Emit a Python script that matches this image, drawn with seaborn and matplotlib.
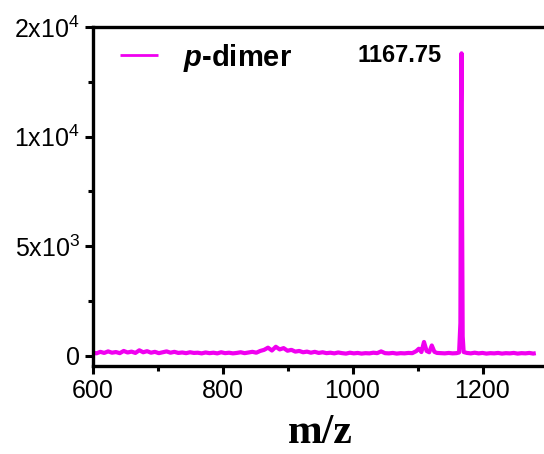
import matplotlib
matplotlib.use("Agg")
import matplotlib.pyplot as plt
import seaborn as sns
import pandas as pd
from matplotlib.ticker import FixedLocator, FixedFormatter

# MALDI-TOF spectrum of the p-dimer
mz = [600, 606, 612, 618, 624, 630, 636, 642, 648, 654, 660, 666, 672, 678, 684,
      690, 696, 702, 708, 714, 720, 726, 732, 738, 744, 750, 756, 762, 768, 774,
      780, 786, 792, 798, 804, 810, 816, 822, 828, 834, 840, 846, 852, 858, 864,
      870, 876, 882, 888, 894, 900, 906, 912, 918, 924, 930, 936, 942, 948, 954,
      960, 966, 972, 978, 984, 990, 996, 1002, 1008, 1014, 1020, 1026, 1032, 1038,
      1044, 1050, 1056, 1062, 1068, 1074, 1080, 1086, 1092, 1098, 1102, 1106, 1110,
      1114, 1118, 1122, 1126, 1130, 1136, 1142, 1148, 1154, 1160, 1164, 1166, 1167,
      1167.75, 1168.5, 1169.5, 1171, 1176, 1182, 1188, 1194, 1200, 1206, 1212, 1218,
      1224, 1230, 1236, 1242, 1248, 1254, 1260, 1266, 1272, 1278, 1282]
intensity = [160, 120, 190, 140, 210, 150, 180, 130, 230, 160, 200, 140, 260, 170, 220,
             150, 190, 130, 170, 210, 150, 190, 140, 160, 130, 170, 140, 150, 120, 160,
             130, 150, 120, 170, 130, 150, 120, 140, 170, 130, 160, 190, 150, 230, 280,
             380, 250, 420, 300, 360, 240, 280, 200, 230, 170, 200, 150, 190, 140, 170,
             130, 150, 120, 160, 130, 110, 150, 120, 140, 110, 130, 120, 150, 130,
             210, 130, 120, 140, 110, 130, 120, 140, 130, 220, 330, 180, 640,
             230, 170, 480, 190, 140, 130, 120, 140, 120, 130, 160, 1500, 11500,
             13800, 7000, 900, 180, 140, 120, 150, 120, 140, 110, 130, 120,
             140, 110, 130, 120, 140, 110, 130, 120, 140, 110, 130]

series_label = r"$\mathbfit{p}$-dimer"
peak_label = "1167.75"
peak_mz = 1167.75
peak_height = 13800

y_ticks = [0, 5000, 10000, 15000]
y_ticklabels = ["0", r"5x10$^{3}$", r"1x10$^{4}$", r"2x10$^{4}$"]
x_ticks = [600, 800, 1000, 1200]

sns.set_style("ticks")
plt.rcParams["font.family"] = ["Liberation Sans", "DejaVu Sans"]
plt.rcParams["mathtext.fontset"] = "custom"
plt.rcParams["mathtext.rm"] = "Liberation Sans"
plt.rcParams["mathtext.it"] = "Liberation Sans:italic"
plt.rcParams["mathtext.bf"] = "Liberation Sans:bold"
plt.rcParams["mathtext.bfit"] = "Liberation Sans:italic:bold"
plt.rcParams["text.color"] = "black"
plt.rcParams["axes.labelcolor"] = "black"

magenta = "#F000F0"

df = pd.DataFrame({"m/z": mz, "Intensity": intensity})

fig = plt.figure(figsize=(5.44, 4.54), dpi=100)
ax = fig.add_axes([92.5 / 544, 1 - 366 / 454, 455 / 544, 339 / 454])

sns.lineplot(data=df, x="m/z", y="Intensity", ax=ax, color=magenta,
             linewidth=3.0, label=series_label, sort=False,
             solid_capstyle="butt", solid_joinstyle="round")

ax.set_xlim(600, 1300)
ax.set_ylim(-456, 15000)

ax.xaxis.set_major_locator(FixedLocator(x_ticks))
ax.xaxis.set_minor_locator(FixedLocator([700, 900, 1100]))
ax.yaxis.set_major_locator(FixedLocator(y_ticks))
ax.yaxis.set_major_formatter(FixedFormatter(y_ticklabels))
ax.yaxis.set_minor_locator(FixedLocator([2500, 7500, 12500]))

ax.tick_params(axis="both", which="major", direction="out", length=6, width=2.2,
               labelsize=18, colors="black", pad=3)
ax.tick_params(axis="both", which="minor", direction="out", length=3.5, width=2.2,
               colors="black")

for side in ["left", "bottom", "top"]:
    ax.spines[side].set_linewidth(2.4)
    ax.spines[side].set_color("black")
ax.spines["right"].set_visible(False)

ax.set_xlabel("m/z", fontsize=30, fontweight="bold", family="Liberation Serif", labelpad=8)
ax.set_ylabel("")

ax.text(peak_mz - 30, peak_height - 100, peak_label, fontsize=17, fontweight="bold",
        ha="right", va="center")

leg = ax.legend(loc="upper left", bbox_to_anchor=(0.029, 1.0), frameon=False,
                handlelength=1.3, handletextpad=0.85, borderaxespad=0.2, borderpad=0.3,
                prop={"family": "Liberation Sans", "weight": "bold", "size": 21})
for line in leg.get_lines():
    line.set_linewidth(2.0)

fig.savefig("out.png", dpi=100)
